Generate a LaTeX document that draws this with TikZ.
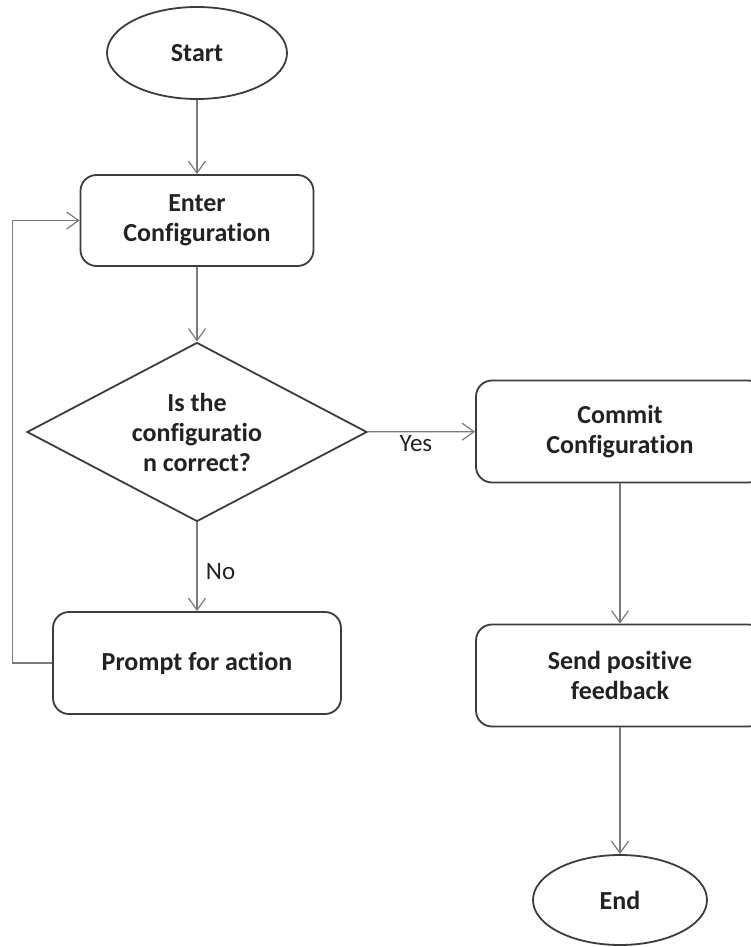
\documentclass[tikz,border=0pt]{standalone}
\usepackage{fontspec}
\setmainfont{Carlito}[Ligatures={NoCommon,NoRequired,NoContextual}]
\usetikzlibrary{shapes.geometric,arrows.meta}
\definecolor{cEdge}{HTML}{3C3C3C}
\definecolor{cLine}{HTML}{7A7A7A}
\definecolor{cTxt}{HTML}{222222}
\begin{document}
\begin{tikzpicture}[x=1pt,y=-1pt,
 shp/.style={draw=cEdge, line width=1.8pt, inner sep=0pt, align=center,
   font=\fontsize{26}{30}\selectfont\bfseries, text=cTxt},
 term/.style={shp, ellipse},
 proc/.style={shp, rectangle, rounded corners=16pt, minimum width=288pt, minimum height=102pt},
 dec/.style={shp, diamond, shape aspect=1.9, minimum width=340pt, minimum height=179pt},
 conn/.style={draw=cLine, line width=1.2pt, -{Straight Barb[length=12pt,width=17pt,line width=1.2pt]}},
 lbl/.style={font=\fontsize{25}{30}\selectfont, text=cTxt}]
\useasboundingbox (0,0) rectangle (751,947);
\node[term, minimum width=180pt, minimum height=92pt] (start) at (197,53) {Start};
\node[proc, minimum width=233pt, minimum height=91pt] (enter) at (197,220.5) {Enter\\Configuration};
\node[dec] (dec) at (197,432) {Is the\\configuratio\\n correct?};
\node[proc] (commit) at (620,431.5) {Commit\\Configuration};
\node[proc] (prompt) at (197,663) {Prompt for action};
\node[proc] (send) at (620,675.5) {Send positive\\feedback};
\node[term, minimum width=174pt, minimum height=90pt] (end) at (620,900) {End};
\draw[conn] (start) -- (enter);
\draw[conn] (enter) -- (dec);
\draw[conn] (dec) -- node[lbl, anchor=west, pos=0.55, xshift=5pt] {No} (prompt);
\draw[conn] (dec) -- node[lbl, anchor=north, pos=0.45] {Yes} (commit);
\draw[conn] (commit) -- (send);
\draw[conn] (send) -- (end);
\draw[conn] (prompt.west) -- ++(-40,0) |- (enter.west);
\end{tikzpicture}
\end{document}
